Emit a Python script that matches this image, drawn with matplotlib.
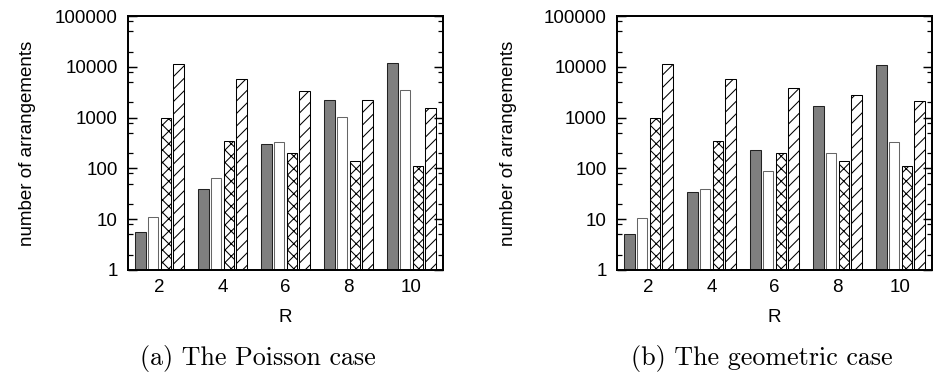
import numpy as np
import matplotlib
matplotlib.use("Agg")
import matplotlib.pyplot as plt
from matplotlib.ticker import LogLocator, FuncFormatter, NullFormatter

# ===== Data =====
R = [2, 4, 6, 8, 10]

# (a) Poisson case
poisson_dark = [5.5, 38.5, 296, 2190, 11700]
poisson_white = [11, 66, 324, 1050, 3500]
poisson_cross = [1000, 339, 200, 143, 114]
poisson_diag = [11500, 5870, 3400, 2190, 1580]

# (b) geometric case
geom_dark = [5.0, 33.6, 232, 1730, 11000]
geom_white = [10.5, 39.7, 87, 203, 333]
geom_cross = [1000, 339, 200, 143, 114]
geom_diag = [11200, 5870, 3840, 2830, 2165]

captions = ["(a) The Poisson case", "(b) The geometric case"]

# ===== Style =====
DPI = 75
W, H = 933, 377
plt.rcParams['font.family'] = ['Liberation Sans', 'DejaVu Sans']
plt.rcParams['hatch.linewidth'] = 1.0

offsets = [-0.6, -0.2, 0.2, 0.6]
bar_w = 0.33
styles = [
    dict(color='#7f7f7f', edgecolor='#222222', hatch=None),
    dict(color='white', edgecolor='#666666', hatch=None),
    dict(color='white', edgecolor='black', hatch='xx'),
    dict(color='white', edgecolor='black', hatch='//'),
]


def draw_panel(ax, series, ylabel_x):
    x = np.array(R, dtype=float)
    for off, vals, st in zip(offsets, series, styles):
        ax.bar(x + off, vals, width=bar_w, log=True, linewidth=1.0, **st)
    ax.set_yscale('log')
    ax.set_ylim(1, 100000)
    ax.set_xlim(1, 11)
    ax.set_xticks(R)
    ax.yaxis.set_major_locator(LogLocator(base=10, numticks=10))
    ax.yaxis.set_minor_locator(LogLocator(base=10, subs=[2, 5, 8], numticks=10))
    ax.yaxis.set_major_formatter(FuncFormatter(lambda v, p: f"{v:.0f}"))
    ax.yaxis.set_minor_formatter(NullFormatter())
    ax.tick_params(axis='y', which='major', direction='in', length=9, width=1.4,
                   right=True, labelsize=18, pad=10)
    ax.tick_params(axis='y', which='minor', direction='in', length=5, width=1.2,
                   right=True)
    ax.tick_params(axis='x', length=0, labelsize=18, pad=9)
    for sp in ax.spines.values():
        sp.set_linewidth(1.9)
    ax.set_xlabel("R", fontsize=18)
    ax.xaxis.set_label_coords(0.5, -0.155)
    ax.set_ylabel("number of arrangements", fontsize=18)
    ax.yaxis.set_label_coords(ylabel_x, 0.5)


fig = plt.figure(figsize=(W / DPI, H / DPI), dpi=DPI)
ax1 = fig.add_axes([128 / W, 107 / H, 315 / W, 254 / H])
ax2 = fig.add_axes([617 / W, 107 / H, 315 / W, 254 / H])

draw_panel(ax1, [poisson_dark, poisson_white, poisson_cross, poisson_diag], -0.292)
draw_panel(ax2, [geom_dark, geom_white, geom_cross, geom_diag], -0.318)

fig.text(258 / W, 1 - 358 / H, captions[0], family='cmr10', fontsize=25,
         ha='center', va='center')
fig.text(762 / W, 1 - 358 / H, captions[1], family='cmr10', fontsize=25,
         ha='center', va='center')

fig.savefig("out.png", dpi=DPI)
